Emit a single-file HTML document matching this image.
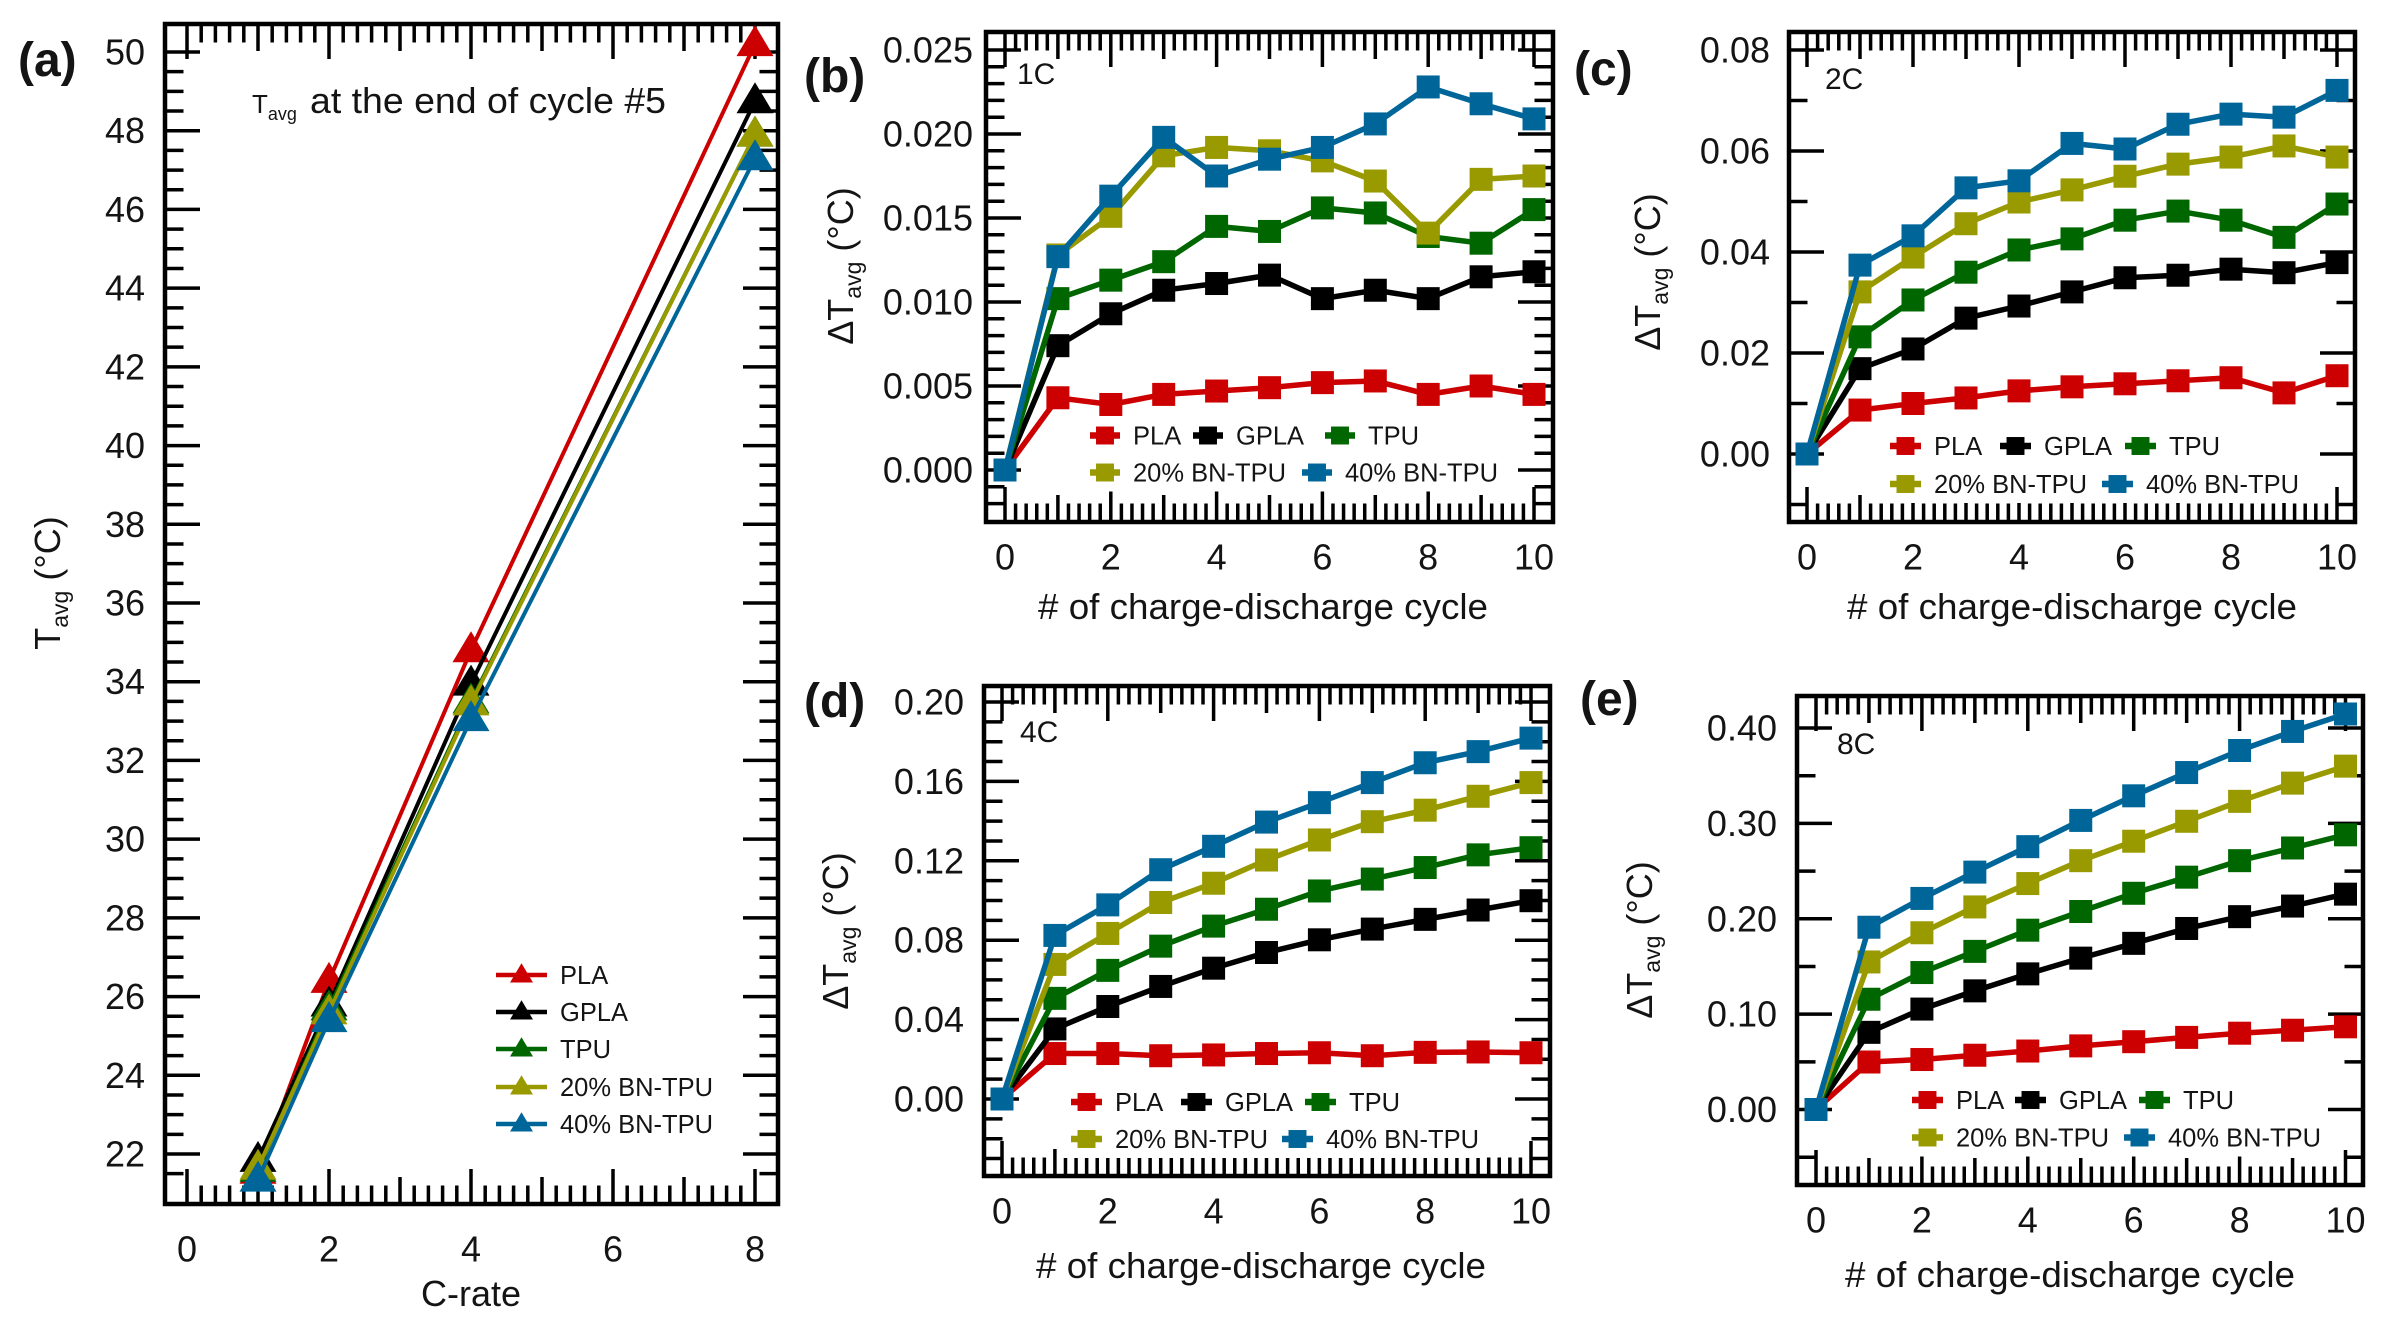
<!DOCTYPE html>
<html lang="en">
<head>
<meta charset="utf-8">
<title>Average temperature versus C-rate and cycle number</title>
<style>
html,body{margin:0;padding:0;background:#fff;}
svg{display:block;}
text{font-family:"Liberation Sans",sans-serif;fill:#141414;}
</style>
</head>
<body>
<svg id="figure" xmlns="http://www.w3.org/2000/svg" width="2383" height="1325" viewBox="0 0 2383 1325"></svg>
<script>
// ---- shared data ----
const cRates = [1, 2, 4, 8];
const cycles = [0, 1, 2, 3, 4, 5, 6, 7, 8, 9, 10];
const seriesNames = ['PLA', 'GPLA', 'TPU', '20% BN-TPU', '40% BN-TPU'];
const seriesSlugs = ['pla', 'gpla', 'tpu', 'bn20-tpu', 'bn40-tpu'];
const seriesColors = ['#cc0000', '#000000', '#006600', '#999900', '#006699'];

// ---- panel (a) values ----
const aPla = [21.55, 26.4, 34.8, 50.2];
const aGpla = [21.85, 25.8, 33.95, 48.75];
const aTpu = [21.6, 25.7, 33.5, 47.9];
const aBn20 = [21.65, 25.6, 33.45, 47.9];
const aBn40 = [21.35, 25.4, 33.05, 47.3];
const aXTicks = ['0', '2', '4', '6', '8'];
const aYTicks = ['22', '24', '26', '28', '30', '32', '34', '36', '38', '40', '42', '44', '46', '48', '50'];

// ---- panel (b) values, 1C ----
const bPla = [0, 0.0043, 0.0039, 0.0045, 0.0047, 0.0049, 0.0052, 0.0053, 0.0045, 0.0050, 0.0045];
const bGpla = [0, 0.0074, 0.0093, 0.0107, 0.0111, 0.0116, 0.0102, 0.0107, 0.0102, 0.0115, 0.0118];
const bTpu = [0, 0.0102, 0.0113, 0.0124, 0.0145, 0.0142, 0.0156, 0.0153, 0.0139, 0.0135, 0.0155];
const bBn20 = [0, 0.0128, 0.0151, 0.0187, 0.0192, 0.0190, 0.0184, 0.0172, 0.0141, 0.0173, 0.0175];
const bBn40 = [0, 0.0127, 0.0163, 0.0198, 0.0175, 0.0185, 0.0192, 0.0206, 0.0228, 0.0218, 0.0209];
const bYTicks = ['0.000', '0.005', '0.010', '0.015', '0.020', '0.025'];

// ---- panel (c) values, 2C ----
const cPla = [0, 0.0087, 0.0100, 0.0111, 0.0125, 0.0133, 0.0139, 0.0145, 0.0151, 0.0121, 0.0155];
const cGpla = [0, 0.0169, 0.0208, 0.0269, 0.0293, 0.0321, 0.0349, 0.0354, 0.0366, 0.0359, 0.0379];
const cTpu = [0, 0.0232, 0.0305, 0.0360, 0.0404, 0.0426, 0.0463, 0.0481, 0.0463, 0.0429, 0.0495];
const cBn20 = [0, 0.0321, 0.0390, 0.0456, 0.0499, 0.0523, 0.0550, 0.0574, 0.0588, 0.0610, 0.0588];
const cBn40 = [0, 0.0374, 0.0432, 0.0527, 0.0541, 0.0615, 0.0604, 0.0653, 0.0673, 0.0667, 0.0720];
const cYTicks = ['0.00', '0.02', '0.04', '0.06', '0.08'];

// ---- panel (d) values, 4C ----
const dPla = [0, 0.0229, 0.0229, 0.0218, 0.0222, 0.0229, 0.0233, 0.0218, 0.0235, 0.0237, 0.0233];
const dGpla = [0, 0.0353, 0.0466, 0.0567, 0.0659, 0.0738, 0.0802, 0.0856, 0.0905, 0.0952, 0.0999];
const dTpu = [0, 0.0507, 0.0648, 0.0770, 0.0871, 0.0956, 0.1048, 0.1108, 0.1166, 0.1230, 0.1266];
const dBn20 = [0, 0.0678, 0.0834, 0.0990, 0.1087, 0.1204, 0.1305, 0.1397, 0.1455, 0.1525, 0.1594];
const dBn40 = [0, 0.0824, 0.0978, 0.1155, 0.1273, 0.1395, 0.1493, 0.1594, 0.1694, 0.1750, 0.1818];
const dYTicks = ['0.00', '0.04', '0.08', '0.12', '0.16', '0.20'];

// ---- panel (e) values, 8C ----
const ePla = [0, 0.0498, 0.0524, 0.0569, 0.0613, 0.0667, 0.0711, 0.0756, 0.0800, 0.0831, 0.0867];
const eGpla = [0, 0.0809, 0.1053, 0.1244, 0.1422, 0.1587, 0.1742, 0.1898, 0.2022, 0.2133, 0.2258];
const eTpu = [0, 0.1156, 0.1436, 0.1658, 0.1880, 0.2076, 0.2267, 0.2436, 0.2609, 0.2742, 0.2880];
const eBn20 = [0, 0.1547, 0.1853, 0.2124, 0.2369, 0.2609, 0.2813, 0.3022, 0.3231, 0.3422, 0.3600];
const eBn40 = [0, 0.1911, 0.2213, 0.2489, 0.2756, 0.3031, 0.3289, 0.3533, 0.3764, 0.3964, 0.4147];
const eYTicks = ['0.00', '0.10', '0.20', '0.30', '0.40'];

const cycleXTicks = ['0', '2', '4', '6', '8', '10'];
const cycleTitle = '# of charge-discharge cycle';

// ---- layout (pixels and axis anchors) ----
const panels = [
  { id: 'a', left: 165, right: 778, top: 24, bottom: 1204,
    xA: 0, xB: 8, pxA: 187, pxB: 755, yA: 22, yB: 50, pyA: 1154, pyB: 52,
    yMinor: 0.5, xLabelY: 1249, yLabelX: 145, xVals: cRates,
    series: [aPla, aGpla, aTpu, aBn20, aBn40], xTicks: aXTicks, yTicks: aYTicks, marker: 'tri',
    tag: '(a)', tagX: 18, tagY: 76, xTitle: 'C-rate', xTitleX: 471, xTitleY: 1306, xTitleLen: 100,
    yTitleX: 60, yTitleY: 583, delta: false, note: null },
  { id: 'b', left: 986, right: 1553, top: 32, bottom: 522,
    xA: 0, xB: 10, pxA: 1005, pxB: 1534, yA: 0, yB: 0.025, pyA: 470, pyB: 50,
    yMinor: 0.001, xLabelY: 557, yLabelX: 973, xVals: cycles,
    series: [bPla, bGpla, bTpu, bBn20, bBn40], xTicks: cycleXTicks, yTicks: bYTicks, marker: 'sq',
    tag: '(b)', tagX: 804, tagY: 92, xTitle: cycleTitle, xTitleX: 1263, xTitleY: 619, xTitleLen: 450,
    yTitleX: 853, yTitleY: 266, delta: true, note: '1C', noteX: 1017, noteY: 84,
    legend: { rows: [435.5, 472.5], line: 30, boxRight: 1499, items: [[0, 1090, 0], [1, 1193, 0], [2, 1325, 0], [3, 1090, 1], [4, 1302, 1]] } },
  { id: 'c', left: 1789, right: 2355, top: 32, bottom: 522,
    xA: 0, xB: 10, pxA: 1807, pxB: 2337, yA: 0, yB: 0.08, pyA: 454, pyB: 50,
    yMinor: 0.01, xLabelY: 557, yLabelX: 1770, xVals: cycles,
    series: [cPla, cGpla, cTpu, cBn20, cBn40], xTicks: cycleXTicks, yTicks: cYTicks, marker: 'sq',
    tag: '(c)', tagX: 1574, tagY: 85, xTitle: cycleTitle, xTitleX: 2072, xTitleY: 619, xTitleLen: 450,
    yTitleX: 1660, yTitleY: 272, delta: true, note: '2C', noteX: 1825, noteY: 89,
    legend: { rows: [446, 484], line: 31, boxRight: 2300, items: [[0, 1890, 0], [1, 2000, 0], [2, 2125, 0], [3, 1890, 1], [4, 2102, 1]] } },
  { id: 'd', left: 984, right: 1550, top: 686, bottom: 1176,
    xA: 0, xB: 10, pxA: 1002, pxB: 1531, yA: 0, yB: 0.2, pyA: 1099, pyB: 702,
    yMinor: 0.01, xLabelY: 1211, yLabelX: 964, xVals: cycles,
    series: [dPla, dGpla, dTpu, dBn20, dBn40], xTicks: cycleXTicks, yTicks: dYTicks, marker: 'sq',
    tag: '(d)', tagX: 804, tagY: 717, xTitle: cycleTitle, xTitleX: 1261, xTitleY: 1278, xTitleLen: 450,
    yTitleX: 848, yTitleY: 931, delta: true, note: '4C', noteX: 1020, noteY: 742,
    legend: { rows: [1102, 1139], line: 31, boxRight: 1480, items: [[0, 1071, 0], [1, 1181, 0], [2, 1305, 0], [3, 1071, 1], [4, 1282, 1]] } },
  { id: 'e', left: 1797, right: 2363, top: 696, bottom: 1185,
    xA: 0, xB: 10, pxA: 1816, pxB: 2345.5, yA: 0, yB: 0.4, pyA: 1109.5, pyB: 728,
    yMinor: 0.05, xLabelY: 1220, yLabelX: 1777, xVals: cycles,
    series: [ePla, eGpla, eTpu, eBn20, eBn40], xTicks: cycleXTicks, yTicks: eYTicks, marker: 'sq',
    tag: '(e)', tagX: 1580, tagY: 715, xTitle: cycleTitle, xTitleX: 2070, xTitleY: 1287, xTitleLen: 450,
    yTitleX: 1652, yTitleY: 940, delta: true, note: '8C', noteX: 1837, noteY: 754,
    legend: { rows: [1100, 1137.5], line: 31, boxRight: 2321, items: [[0, 1912, 0], [1, 2015, 0], [2, 2139, 0], [3, 1912, 1], [4, 2124, 1]] } }
];

// ---- helpers ----
const NS = 'http://www.w3.org/2000/svg';
const root = document.getElementById('figure');
function make(tag, parent, attrs) {
  const node = document.createElementNS(NS, tag);
  for (const k in attrs) node.setAttribute(k, attrs[k]);
  parent.appendChild(node);
  return node;
}
function label(parent, str, x, y, size, anchor, weight) {
  const t = make('text', parent, { x: x, y: y, 'font-size': size, 'text-anchor': anchor || 'start', 'font-weight': weight || 'normal' });
  t.textContent = str;
  return t;
}
function xAxisFn(p) { return function (v) { return p.pxA + (v - p.xA) * (p.pxB - p.pxA) / (p.xB - p.xA); }; }
function yAxisFn(p) { return function (v) { return p.pyA + (v - p.yA) * (p.pyB - p.pyA) / (p.yB - p.yA); }; }
function yInvert(p, py) { return p.yA + (py - p.pyA) * (p.yB - p.yA) / (p.pyB - p.pyA); }
function seg(parent, x1, y1, x2, y2, w) {
  return make('line', parent, { x1: x1, y1: y1, x2: x2, y2: y2, stroke: '#000', 'stroke-width': w });
}
function drawMarker(parent, kind, cx, cy, color, scale) {
  if (kind === 'tri') {
    const pts = [[cx, cy - 19 * scale], [cx + 18.5 * scale, cy + 12 * scale], [cx - 18.5 * scale, cy + 12 * scale]];
    return make('polygon', parent, { points: pts.map(function (q) { return q.join(','); }).join(' '), fill: color });
  }
  const s = 23 * scale;
  return make('rect', parent, { x: cx - s / 2, y: cy - s / 2, width: s, height: s, fill: color });
}

// ---- draw panels ----
panels.forEach(function (p) {
  const X = xAxisFn(p);
  const Y = yAxisFn(p);
  const g = make('g', root, {});
  
  

  // frame
  const frame = make('rect', g, { x: p.left, y: p.top, width: p.right - p.left, height: p.bottom - p.top, fill: 'none', stroke: '#000', 'stroke-width': 4.5 });
  
  

  // x ticks: minor every 0.2, medium at odd values, major at even values
  for (let i = 0; i <= (p.xB - p.xA) * 5; i++) {
    const px = X(p.xA + i / 5);
    const len = i % 10 === 0 ? 35 : (i % 5 === 0 ? 27 : 18.5);
    const tb = seg(g, px, p.bottom, px, p.bottom - len, 3.5);
    
    
    const tt = seg(g, px, p.top, px, p.top + len, 3.5);
    
    
  }

  // y ticks: majors from the tick labels, minors on a regular step
  const majors = p.yTicks.map(Number);
  const lo = Math.ceil(yInvert(p, p.bottom - 12) / p.yMinor - 1e-9);
  const hi = Math.floor(yInvert(p, p.top + 12) / p.yMinor + 1e-9);
  for (let k = lo; k <= hi; k++) {
    const v = k * p.yMinor;
    const isMajor = majors.some(function (m) { return Math.abs(m - v) < p.yMinor / 10; });
    const py = Y(v);
    const len = isMajor ? 35 : 18.5;
    const tl = seg(g, p.left, py, p.left + len, py, 3.5);
    
    
    const tr = seg(g, p.right, py, p.right - len, py, 3.5);
    
    
  }

  // tick labels
  p.xTicks.forEach(function (s) {
    const t = label(g, s, X(Number(s)), p.xLabelY + 12.5, 36, 'middle');
    
    
  });
  p.yTicks.forEach(function (s) {
    const t = label(g, s, p.yLabelX, Y(Number(s)) + 12.5, 36, 'end');
    
    
  });

  // axis titles
  const xt = label(g, p.xTitle, p.xTitleX, p.xTitleY, 36, 'middle');
  xt.setAttribute('textLength', p.xTitleLen);
  xt.setAttribute('lengthAdjust', 'spacingAndGlyphs');
  
  

  const yt = make('text', g, { x: p.yTitleX, y: p.yTitleY, 'font-size': 36, 'text-anchor': 'middle', transform: 'rotate(-90 ' + p.yTitleX + ' ' + p.yTitleY + ')' });
  
  
  yt.appendChild(document.createTextNode((p.delta ? '\u0394' : '') + 'T'));
  const sub = make('tspan', yt, { 'font-size': 23, dy: 8 });
  sub.textContent = 'avg';
  const rest = make('tspan', yt, { dy: -8 });
  rest.textContent = ' (\u00B0C)';

  // panel tag
  const tag = label(g, p.tag, p.tagX, p.tagY, 48, 'start', 'bold');
  
  

  // rate note
  if (p.note) {
    const n = label(g, p.note, p.noteX, p.noteY, 30);
    
    
  }

  // series
  p.series.forEach(function (vals, si) {
    const color = seriesColors[si];
    const sg = make('g', g, {});
    
    
    const pts = vals.map(function (v, i) { return X(p.xVals[i]).toFixed(1) + ',' + Y(v).toFixed(1); }).join(' ');
    const line = make('polyline', sg, { points: pts, fill: 'none', stroke: color, 'stroke-width': p.marker === 'tri' ? 4 : 5.5, 'stroke-linejoin': 'round' });
    
    
    vals.forEach(function (v, i) {
      const m = drawMarker(sg, p.marker, X(p.xVals[i]), Y(v), color, 1);
      
      
    });
  });

  // square-marker legend on an opaque white box that masks the ticks behind it
  if (p.legend) {
    const lg = make('g', g, {});
    
    
    const boxLeft = p.legend.items[0][1] - 8;
    const boxTop = p.legend.rows[0] - 19;
    const box = make('rect', lg, { x: boxLeft, y: boxTop, width: p.legend.boxRight - boxLeft, height: p.legend.rows[1] + 19 - boxTop, fill: '#fff' });
    
    
    p.legend.items.forEach(function (it) {
      const si = it[0], lx = it[1], ly = p.legend.rows[it[2]];
      const entry = make('g', lg, {});
      
      
      make('line', entry, { x1: lx, y1: ly, x2: lx + p.legend.line, y2: ly, stroke: seriesColors[si], 'stroke-width': 6.5 });
      drawMarker(entry, 'sq', lx + p.legend.line / 2, ly, seriesColors[si], 0.78);
      label(entry, seriesNames[si], lx + p.legend.line + 13, ly + 9, 25.5);
    });
  }
});

// ---- panel (a) annotation and legend ----
const noteGroup = make('g', root, {});


const noteA = make('text', noteGroup, { x: 252, y: 113, 'font-size': 26 });
const noteT = make('tspan', noteA, {});
noteT.textContent = 'T';
const noteSub = make('tspan', noteA, { 'font-size': 18, dy: 7 });
noteSub.textContent = 'avg';
const noteRest = label(noteGroup, 'at the end of cycle #5', 310, 113, 36);
noteRest.setAttribute('textLength', 356);
noteRest.setAttribute('lengthAdjust', 'spacingAndGlyphs');

const aLegendRows = [975, 1012, 1049, 1087, 1124];
const aLegend = make('g', root, {});


seriesNames.forEach(function (name, si) {
  const ly = aLegendRows[si];
  const entry = make('g', aLegend, {});
  
  
  make('line', entry, { x1: 496, y1: ly, x2: 547, y2: ly, stroke: seriesColors[si], 'stroke-width': 4.5 });
  drawMarker(entry, 'tri', 521.5, ly, seriesColors[si], 0.62);
  label(entry, name, 560, ly + 9, 25.5);
});
</script>
</body>
</html>
